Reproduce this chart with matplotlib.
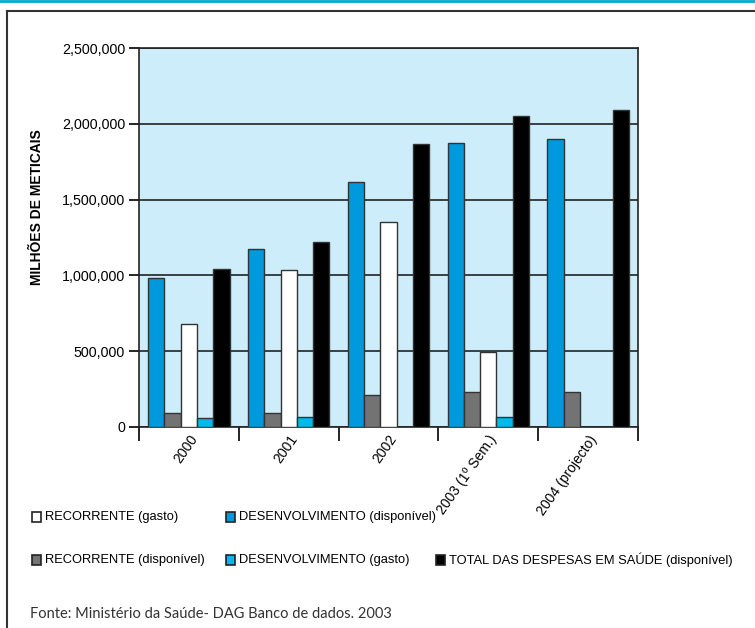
import numpy as np
import matplotlib.pyplot as plt
from matplotlib.patches import Rectangle
from matplotlib.lines import Line2D
from matplotlib.ticker import FuncFormatter

# dados (milhoes de meticais)
anos = ["2000", "2001", "2002", "2003 (1º Sem.)", "2004 (projecto)"]
desenv_disp = [983000, 1174000, 1616000, 1873000, 1900000]
recorr_disp = [92000, 92000, 211000, 229000, 231000]
recorr_gasto = [679000, 1036000, 1352000, 495000, 0]
desenv_gasto = [57000, 64000, 0, 64000, 0]
total_disp = [1042000, 1220000, 1867000, 2051000, 2091000]

series = [desenv_disp, recorr_disp, recorr_gasto, desenv_gasto, total_disp]
cores = ["#0099dd", "#737373", "#ffffff", "#00b9ec", "#000000"]
nomes = ["DESENVOLVIMENTO (disponível)", "RECORRENTE (disponível)",
         "RECORRENTE (gasto)", "DESENVOLVIMENTO (gasto)",
         "TOTAL DAS DESPESAS EM SAÚDE (disponível)"]

fonte = ["Liberation Sans", "DejaVu Sans"]

fig = plt.figure(figsize=(7.55, 6.28), dpi=100)
ax = fig.add_axes([139/755, 1-427/628, (638-139)/755, (427-48)/628])
ax.set_facecolor("#ccedf9")

x = np.arange(len(anos))
w = 0.163
for i, (vals, c) in enumerate(zip(series, cores)):
    ax.bar(x + (i-2)*w, vals, w, color=c, edgecolor="#333333", linewidth=1, zorder=3)

ax.set_xlim(-0.5, len(anos)-0.5)
ax.set_ylim(0, 2500000)
ax.set_yticks(np.arange(0, 2500001, 500000))
ax.yaxis.set_major_formatter(FuncFormatter(lambda v, p: f"{int(v):,}"))
ax.grid(axis="y", color="#222222", linewidth=1.2, zorder=1)
ax.tick_params(axis="y", length=7, width=1.2, labelsize=10.3, pad=3)
for t in ax.get_yticklabels():
    t.set_family(fonte)

ax.set_xticks(np.arange(-0.5, len(anos)), [])
ax.set_xticks(x, anos, minor=True)
ax.tick_params(axis="x", which="major", length=10, width=1.2)
ax.tick_params(axis="x", which="minor", length=0, pad=4)
for t in ax.get_xticklabels(minor=True):
    t.set_family(fonte)
    t.set_fontsize(10)
    t.set_rotation(55)
    t.set_ha("right")
    t.set_va("top")
    t.set_rotation_mode("anchor")

for s in ax.spines.values():
    s.set_linewidth(1.2)
    s.set_color("#222222")

fig.text(37/755, 1-207/628, "MILHÕES DE METICAIS", family=fonte, fontsize=10,
         fontweight="bold", rotation=90, ha="center", va="center")

# legenda
leg = [(2, 32, 517), (0, 226, 517), (1, 32, 560), (3, 226, 560), (4, 436, 560)]
for k, px, py in leg:
    fig.patches.append(Rectangle((px/755, 1-(py+5)/628), 9/755, 10/628,
                                 transform=fig.transFigure, facecolor=cores[k],
                                 edgecolor="#222222", linewidth=1.2))
    fig.text((px+13)/755, 1-py/628, nomes[k], family=fonte, fontsize=9.3,
             va="center", ha="left")

fig.text(30/755, 1-614/628, "Fonte: Ministério da Saúde- DAG Banco de dados. 2003",
         family=["Lato", "DejaVu Sans"], fontsize=10.5, color="#333333",
         va="center", ha="left")

# moldura
fig.add_artist(Line2D([0, 1], [1-1/628, 1-1/628], color="#00aacc", linewidth=2,
                      transform=fig.transFigure))
fig.add_artist(Line2D([7/755, 1], [1-11/628, 1-11/628], color="#333333", linewidth=1.5,
                      transform=fig.transFigure))
fig.add_artist(Line2D([7/755, 7/755], [1-11/628, 0], color="#333333", linewidth=1.5,
                      transform=fig.transFigure))

fig.savefig("out.png", dpi=100)
